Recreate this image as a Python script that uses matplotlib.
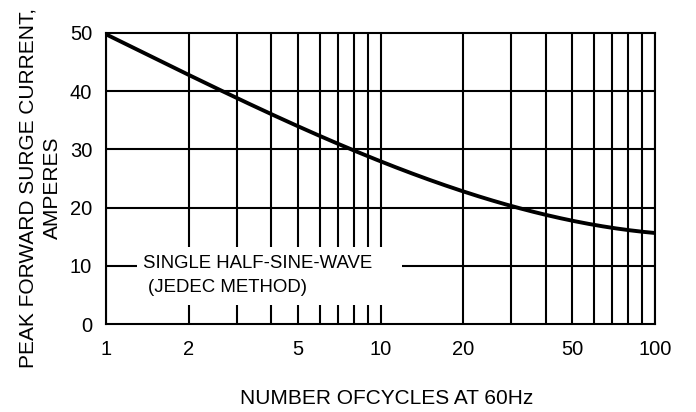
import matplotlib
matplotlib.use("Agg")
import matplotlib.pyplot as plt
from matplotlib.patches import Rectangle
import numpy as np

plt.rcParams['font.family'] = ['Liberation Sans', 'DejaVu Sans']

# data
cycles = [1, 2, 3, 5, 8, 10, 20, 30, 50, 100]
current = [49.5, 43.5, 38.9, 33.4, 29.6, 27.9, 23.3, 20.2, 17.7, 15.6]

x_ticks = [1, 2, 5, 10, 20, 50, 100]
x_tick_labels = ["1", "2", "5", "10", "20", "50", "100"]
x_grid = [1, 2, 3, 4, 5, 6, 7, 8, 9, 10, 20, 30, 40, 50, 60, 70, 80, 90, 100]
y_ticks = [0, 10, 20, 30, 40, 50]

fig = plt.figure(figsize=(6.96, 4.12), dpi=100)
ax = fig.add_axes([106/696, 1-324/412, (655-106)/696, (324-33)/412])
ax.set_xscale('log')
ax.set_xlim(1, 100)
ax.set_ylim(0, 50)

for xv in x_grid:
    ax.axvline(xv, color='black', lw=1.5, zorder=1)
for yv in y_ticks[1:-1]:
    ax.axhline(yv, color='black', lw=1.5, zorder=1)

# white label box interrupting the grid
ax.add_patch(Rectangle((1.30, 3.3), 11.97-1.30, 13.2-3.3, facecolor='white',
                       edgecolor='none', zorder=2))
ax.text(1.36, 9.62, "SINGLE HALF-SINE-WAVE", fontsize=13.4, va='baseline', ha='left', zorder=3)
ax.text(1.42, 5.55, "(JEDEC METHOD)", fontsize=13.4, va='baseline', ha='left', zorder=3)

# smooth curve through read points
lx = np.log10(cycles)
xs = np.linspace(0, 2, 200)
coef = np.polyfit(lx, current, 3)
ys = np.polyval(coef, xs)
ax.plot(10**xs, ys, color='black', lw=2.8, zorder=4, solid_capstyle='butt')

ax.set_xticks(x_ticks)
ax.set_xticklabels(x_tick_labels)
ax.xaxis.set_minor_locator(matplotlib.ticker.NullLocator())
ax.set_yticks(y_ticks)
ax.tick_params(axis='both', length=0, labelsize=14.5)
ax.tick_params(axis='x', pad=11.5)
ax.tick_params(axis='y', pad=10)
for s in ax.spines.values():
    s.set_linewidth(1.5)
    s.set_zorder(5)

ax.set_xlabel("NUMBER OFCYCLES AT 60Hz", fontsize=15)
ax.xaxis.set_label_coords(0.512, -0.223)
ax.set_ylabel("PEAK FORWARD SURGE CURRENT,\nAMPERES", fontsize=15.0,
              multialignment='center', linespacing=1.38)
ax.yaxis.set_label_coords(-0.080, 0.468)

fig.savefig("out.png", dpi=100)
